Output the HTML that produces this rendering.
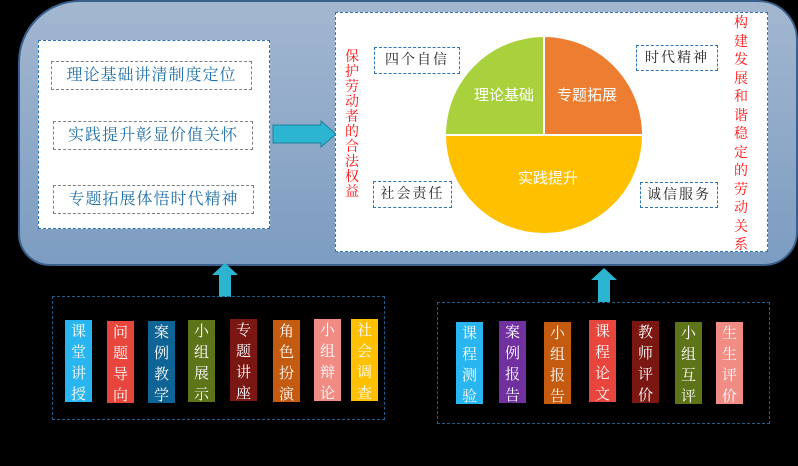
<!DOCTYPE html>
<html><head><meta charset="utf-8"><style>
*{margin:0;padding:0;box-sizing:border-box}
body{width:798px;height:466px;background:#000;position:relative;overflow:hidden;font-family:"Liberation Serif","Noto Serif CJK SC",serif}
.panel{position:absolute;left:18px;top:0;width:780px;height:266px;border:2px solid #3a5f8c;border-radius:62px 40px 34px 32px;background:linear-gradient(#a3b7d0,#7c9cc1)}
.wb{position:absolute;background:#fff;border:1px dashed #2e75b6}
.ib{position:absolute;border:1.5px dashed #7f7f7f;color:#1f6fa8;font-size:16px;text-align:center;line-height:27px;letter-spacing:1px}
.sb{position:absolute;border:1.5px dashed #2e75b6;background:#fff;font-size:14px;text-align:center;line-height:25px;letter-spacing:2px;color:#222}
.red{position:absolute;color:#ff1010;font-size:14px;width:16px;line-height:15px;text-align:center}
.card{position:absolute;width:27px;color:#fff;font-size:15px;line-height:21px;text-align:center;padding-top:2px}
.bb{position:absolute;border:1.5px dashed #1f5f8f}
.pl{position:absolute;color:#fff;font-size:15px;font-family:"Liberation Sans","Noto Sans CJK SC",sans-serif}
</style></head><body>
<div class="panel"></div>
<div class="wb" style="left:38px;top:40px;width:232px;height:189px"></div>
<div class="ib" style="left:51px;top:61px;width:201px;height:29px">理论基础讲清制度定位</div>
<div class="ib" style="left:53px;top:121px;width:200px;height:29px">实践提升彰显价值关怀</div>
<div class="ib" style="left:53px;top:185px;width:201px;height:29px">专题拓展体悟时代精神</div>
<svg style="position:absolute;left:272px;top:120px" width="66" height="28"><polygon points="1,5 49,5 49,1 64,14 49,27 49,23 1,23" fill="#2bb5d0" stroke="#1f7fa0"/></svg>
<div class="wb" style="left:335px;top:12px;width:433px;height:240px"></div>
<svg style="position:absolute;left:440px;top:31px" width="210" height="210">
<path d="M104,104 L104,5 A99,99 0 0 0 5,104 Z" fill="#a9d13c" stroke="#fff" stroke-width="2"/>
<path d="M104,104 L104,5 A99,99 0 0 1 203,104 Z" fill="#ed7d31" stroke="#fff" stroke-width="2"/>
<path d="M5,104 A99,99 0 0 0 203,104 Z" fill="#ffc000" stroke="#fff" stroke-width="2"/>
</svg>
<div class="pl" style="left:474px;top:84px">理论基础</div>
<div class="pl" style="left:557px;top:84px">专题拓展</div>
<div class="pl" style="left:518px;top:167px">实践提升</div>
<div class="sb" style="left:374px;top:47px;width:86px;height:27px">四个自信</div>
<div class="sb" style="left:636px;top:45px;width:82px;height:26px">时代精神</div>
<div class="sb" style="left:373px;top:181px;width:79px;height:27px">社会责任</div>
<div class="sb" style="left:640px;top:182px;width:78px;height:26px">诚信服务</div>
<div class="red" style="left:344px;top:50px">保护劳动者的合法权益</div>
<div class="red" style="left:733px;top:15px;line-height:18.5px">构建发展和谐稳定的劳动关系</div>
<svg style="position:absolute;left:210px;top:262px" width="30" height="36"><polygon points="15,1 28,13 21,13 21,35 9,35 9,13 2,13" fill="#2bb5d0"/></svg>
<svg style="position:absolute;left:589px;top:267px" width="30" height="36"><polygon points="15,1 28,13 21,13 21,35 9,35 9,13 2,13" fill="#2bb5d0"/></svg>
<div class="bb" style="left:52px;top:296px;width:333px;height:124px"></div>
<div class="bb" style="left:437px;top:302px;width:333px;height:122px"></div>
<div class="card" style="left:65px;top:320px;height:82px;background:#29b5f0">课堂讲授</div>
<div class="card" style="left:107px;top:321px;height:82px;background:#e8453c">问题导向</div>
<div class="card" style="left:148px;top:321px;height:82px;background:#0f6496">案例教学</div>
<div class="card" style="left:188px;top:320px;height:82px;background:#5e7418">小组展示</div>
<div class="card" style="left:230px;top:319px;height:82px;background:#7a1712">专题讲座</div>
<div class="card" style="left:273px;top:320px;height:82px;background:#c55a11">角色扮演</div>
<div class="card" style="left:314px;top:319px;height:82px;background:#f08c84">小组辩论</div>
<div class="card" style="left:351px;top:319px;height:82px;background:#ffc000">社会调查</div>
<div class="card" style="left:456px;top:322px;height:82px;background:#29b5f0">课程测验</div>
<div class="card" style="left:499px;top:321px;height:82px;background:#7030a0">案例报告</div>
<div class="card" style="left:544px;top:322px;height:82px;background:#c55a11">小组报告</div>
<div class="card" style="left:589px;top:320px;height:82px;background:#e8453c">课程论文</div>
<div class="card" style="left:632px;top:321px;height:82px;background:#7a1712">教师评价</div>
<div class="card" style="left:675px;top:322px;height:82px;background:#5e7418">小组互评</div>
<div class="card" style="left:716px;top:322px;height:82px;background:#f08c84">生生评价</div>
</body></html>
